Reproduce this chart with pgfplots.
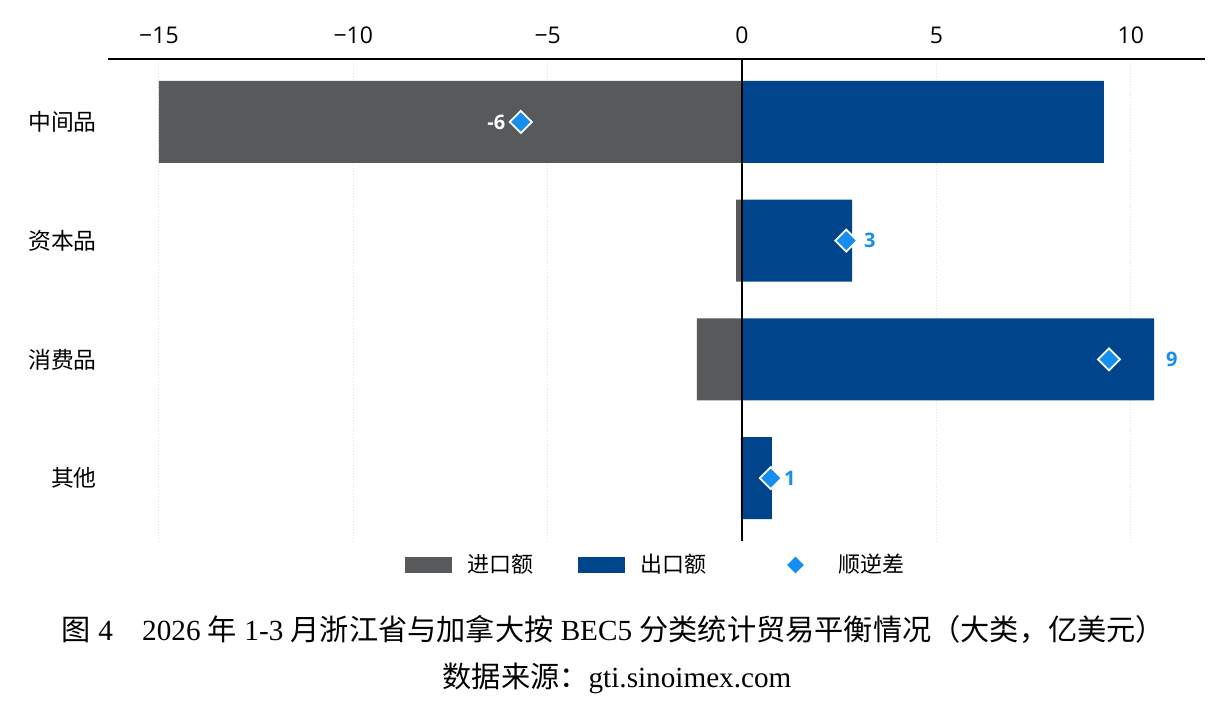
\documentclass[border=0pt]{standalone}
\usepackage{fontspec}
\usepackage{pgfplots}
\usepackage{pgfplotstable}
\pgfplotsset{compat=1.18}
\setmainfont{Open Sans}
\newfontfamily\cjk{Noto Sans CJK SC}
\newfontfamily\serif{Liberation Serif}
\definecolor{impgray}{RGB}{88,89,91}
\definecolor{expblue}{RGB}{0,69,140}
\definecolor{diffblue}{RGB}{22,142,240}

\pgfplotstableread{
y imp exp
0 -15.00 9.31
1 -0.15 2.83
2 -1.16 10.60
3 -0.03 0.77
}\trade
\pgfplotstableread{
y d exp lab
1 2.68 2.83 3
2 9.44 10.60 9
3 0.74 0.77 1
}\diffr
\pgfplotstableread{
y d lab
0 -5.69 -6
}\diffl

\begin{document}
\begin{tikzpicture}
\path (0,0) rectangle (613.5pt,358pt);
\begin{axis}[
  at={(54pt,87.5pt)}, anchor=south west,
  scale only axis, width=548.5pt, height=241pt,
  xmin=-16.31, xmax=11.91, ymin=-0.53, ymax=3.53, y dir=reverse,
  axis x line=top, axis y line=left,
  axis line style={-},
  x axis line style={black, line width=0.9pt},
  y axis line style={draw=none},
  xtick={-15,-10,-5,0,5,10},
  xticklabels={−15,−10,−5,0,5,10},
  ytick={0,1,2,3},
  yticklabels={中间品,资本品,消费品,其他},
  tick style={draw=none},
  xticklabel style={font=\fontsize{11.5}{13}\selectfont, yshift=2pt},
  yticklabel style={font=\cjk\fontsize{11.4}{13}\selectfont},
  xmajorgrids,
  grid style={densely dotted, black!12, line width=0.5pt},
  legend style={at={(0.5,-0.01)}, anchor=north, legend columns=3, draw=none, fill=none,
    font=\cjk\fontsize{11}{13}\selectfont,
    /tikz/every odd column/.append style={column sep=6pt},
    /tikz/every even column/.append style={column sep=20pt}},
  legend cell align=left,
]
\addplot[xbar, bar width=0.69, bar shift=0, fill=impgray, draw=none,
  legend image code/.code={\fill[impgray] (0pt,-4pt) rectangle (23.5pt,4pt);}]
  table[x=imp,y=y]{\trade};
\addlegendentry{进口额}
\addplot[xbar, bar width=0.69, bar shift=0, fill=expblue, draw=none,
  legend image code/.code={\fill[expblue] (0pt,-4pt) rectangle (23.5pt,4pt);}]
  table[x=exp,y=y]{\trade};
\addlegendentry{出口额}
\addplot[black, line width=0.8pt, forget plot] coordinates {(0,-0.53) (0,3.53)};
\addplot[only marks, mark=square*, mark size=3.9pt,
  mark options={rotate=45, fill=diffblue, draw=white, line width=0.9pt},
  legend image code/.code={\path[draw=none, fill=none] (0pt,-4pt) rectangle (36pt,4pt);
    \fill[diffblue, draw=none] (22.5pt,-4.2pt) -- (26.7pt,0pt) -- (22.5pt,4.2pt) -- (18.3pt,0pt) -- cycle;}]
  table[x=d,y=y]{\diffr};
\addlegendentry{顺逆差}
\addplot[only marks, mark=none, forget plot,
  nodes near coords, point meta=explicit symbolic,
  nodes near coords style={anchor=west, font=\bfseries\fontsize{10}{12}\selectfont, text=diffblue, xshift=2.5pt}]
  table[x=exp,y=y,meta=lab]{\diffr};
\addplot[only marks, mark=square*, mark size=3.9pt, forget plot,
  mark options={rotate=45, fill=diffblue, draw=white, line width=0.9pt},
  nodes near coords, point meta=explicit symbolic,
  nodes near coords style={anchor=east, font=\bfseries\fontsize{10}{12}\selectfont, text=white, xshift=-4pt}]
  table[x=d,y=y,meta=lab]{\diffl};
\end{axis}
\node[font=\fontsize{14.6}{16}\selectfont] at (306.75pt,43pt)
  {\cjk 图\serif\ 4\hspace{1em}2026 \cjk 年\serif\ 1-3 \cjk 月浙江省与加拿大按\serif\ BEC5 \cjk 分类统计贸易平衡情况（大类，亿美元）};
\node[font=\fontsize{14.6}{16}\selectfont] at (308.5pt,19pt)
  {\cjk 数据来源：\serif gti.sinoimex.com};
\end{tikzpicture}
\end{document}
